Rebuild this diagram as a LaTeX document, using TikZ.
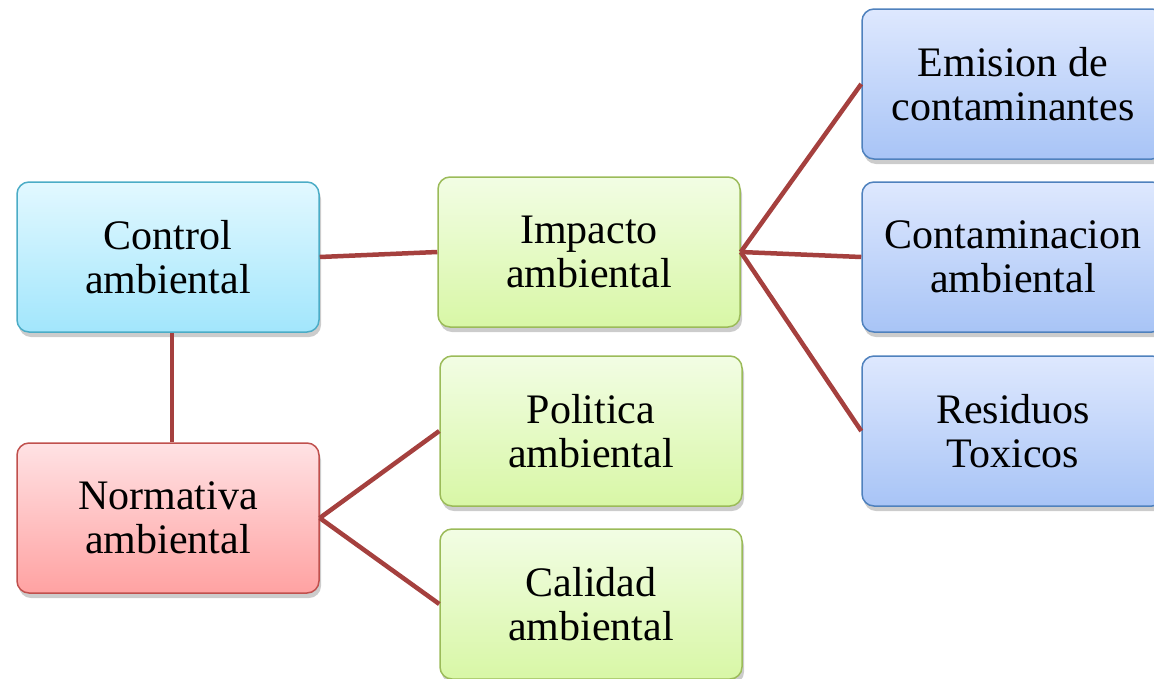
\documentclass[tikz,border=0pt]{standalone}
\usepackage{fontspec}
\setmainfont{Liberation Serif}
\usetikzlibrary{shadows}
\definecolor{linkred}{HTML}{A5403E}
\definecolor{cyanB}{HTML}{4BACC6}\definecolor{cyanT}{HTML}{E2F8FF}\definecolor{cyanBo}{HTML}{A2E6FC}
\definecolor{redB}{HTML}{C0504D}\definecolor{redT}{HTML}{FFE2E4}\definecolor{redBo}{HTML}{FFA2A2}
\definecolor{grnB}{HTML}{9BBB59}\definecolor{grnT}{HTML}{F2FDE4}\definecolor{grnBo}{HTML}{D8F7A6}
\definecolor{bluB}{HTML}{4F81BD}\definecolor{bluT}{HTML}{DEE8FE}\definecolor{bluBo}{HTML}{A8C4F6}
\tikzset{
  box/.style={rectangle, rounded corners=12pt, minimum width=302pt, minimum height=150pt,
    line width=1.5pt, align=center, inner sep=0pt,
    font=\fontsize{42}{44}\selectfont,
    drop shadow={shadow xshift=2pt, shadow yshift=-5pt, opacity=0.4}},
  cbox/.style={box, draw=cyanB, top color=cyanT, bottom color=cyanBo},
  rbox/.style={box, draw=redB, top color=redT, bottom color=redBo},
  gbox/.style={box, draw=grnB, top color=grnT, bottom color=grnBo},
  bbox/.style={box, draw=bluB, top color=bluT, bottom color=bluBo},
  link/.style={draw=linkred, line width=4.5pt}
}
\begin{document}
\begin{tikzpicture}[x=1pt,y=1pt]
\useasboundingbox (0,0) rectangle (1154,-678);
\clip (0,0) rectangle (1154,-678);
\node[cbox] (control) at (168,-257) {Control\\ambiental};
\node[rbox] (norm) at (168,-518) {Normativa\\ambiental};
\node[gbox] (imp) at (589,-252) {Impacto\\ambiental};
\node[gbox] (pol) at (591,-431) {Politica\\ambiental};
\node[gbox] (cal) at (591,-604) {Calidad\\ambiental};
\node[bbox] (emi) at (1013,-84) {Emision de\\contaminantes};
\node[bbox] (con) at (1013,-257) {Contaminacion\\ambiental};
\node[bbox] (res) at (1013,-431) {Residuos\\Toxicos};
\draw[link] (control.east) -- (imp.west);
\draw[link] ([xshift=4pt]control.south) -- ([xshift=4pt]norm.north);
\draw[link] (norm.east) -- (pol.west);
\draw[link] (norm.east) -- (cal.west);
\draw[link] (imp.east) -- (emi.west);
\draw[link] (imp.east) -- (con.west);
\draw[link] (imp.east) -- (res.west);
\end{tikzpicture}
\end{document}
